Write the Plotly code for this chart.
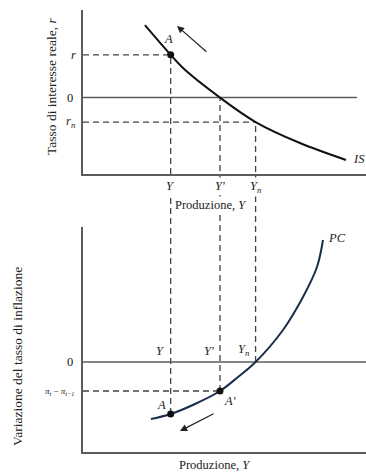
import plotly.graph_objects as go

W, H = 366, 474

# Output levels marked on the horizontal axes
Y_A, Y_PRIME, Y_N = 3.2, 5.0, 6.3
X_MAX = 10.33          # right end of both output axes
ZERO_END = 10.0        # right end of the r = 0 line in the upper panel

# Upper panel: real interest rates
R_A, R_N = 2.1, -1.2
TOP_RANGE = [-3.75, 4.3]

# IS curve (output, real rate)
is_x = [2.26, 3.2, 3.65, 5.0, 6.3, 7.92, 9.6]
is_y = [3.56, 2.1, 1.45, 0.0, -1.2, -2.23, -3.06]

# Lower panel: change in inflation
PI_A, PI_A2 = -2.6, -1.45
BOT_RANGE = [-4.5, 6.75]

# Phillips curve (output, change in inflation)
pc_x = [2.48, 3.2, 4.09, 5.0, 5.66, 6.3, 7.3, 8.03, 8.54, 8.76]
pc_y = [-2.85, -2.6, -2.1, -1.45, -0.75, 0.0, 1.6, 3.25, 4.75, 6.1]

# Axis domains (paper fractions)
X_DOM = [83 / W, 1.0]
TOP_DOM = [1 - 174 / H, 1 - 10 / H]
BOT_DOM = [1 - 452 / H, 1 - 227 / H]

FONT = "Liberation Serif"
AXIS_C = "#5c5c5c"
DASH_C = "#444444"
DASH = "6px,4px"
INK = "#111111"
PC_C = "#1b2c4c"
TXT_C = "#222222"


def to_paper(v, rng, dom):
    return dom[0] + (v - rng[0]) / (rng[1] - rng[0]) * (dom[1] - dom[0])


fig = go.Figure()

# ---------- upper panel ----------
fig.add_trace(go.Scatter(x=[0, ZERO_END], y=[0, 0], mode="lines",
                         line=dict(color=AXIS_C, width=1.5),
                         xaxis="x", yaxis="y", hoverinfo="skip"))
fig.add_trace(go.Scatter(x=[0, Y_A], y=[R_A, R_A], mode="lines",
                         line=dict(color=DASH_C, width=1.3, dash=DASH),
                         xaxis="x", yaxis="y"))
fig.add_trace(go.Scatter(x=[0, Y_N], y=[R_N, R_N], mode="lines",
                         line=dict(color=DASH_C, width=1.3, dash=DASH),
                         xaxis="x", yaxis="y"))
fig.add_trace(go.Scatter(x=is_x, y=is_y, mode="lines",
                         line=dict(color=INK, width=2, shape="spline"),
                         xaxis="x", yaxis="y"))
fig.add_trace(go.Scatter(x=[Y_A], y=[R_A], mode="markers",
                         marker=dict(color=INK, size=7),
                         xaxis="x", yaxis="y"))

# ---------- lower panel ----------
fig.add_trace(go.Scatter(x=[0, X_MAX], y=[0, 0], mode="lines",
                         line=dict(color=AXIS_C, width=1.5),
                         xaxis="x2", yaxis="y2"))
fig.add_trace(go.Scatter(x=[0, Y_PRIME], y=[PI_A2, PI_A2], mode="lines",
                         line=dict(color=DASH_C, width=1.3, dash=DASH),
                         xaxis="x2", yaxis="y2"))
fig.add_trace(go.Scatter(x=pc_x, y=pc_y, mode="lines",
                         line=dict(color=PC_C, width=2, shape="spline"),
                         xaxis="x2", yaxis="y2"))
fig.add_trace(go.Scatter(x=[Y_A, Y_PRIME], y=[PI_A, PI_A2], mode="markers",
                         marker=dict(color=INK, size=7),
                         xaxis="x2", yaxis="y2"))

# Vertical guides running from the upper panel down into the lower one
for xv, top_v, bot_v in [(Y_A, R_A, PI_A), (Y_PRIME, 0.0, PI_A2), (Y_N, R_N, 0.0)]:
    fig.add_shape(type="line", xref="x", yref="paper", x0=xv, x1=xv,
                  y0=to_paper(bot_v, BOT_RANGE, BOT_DOM),
                  y1=to_paper(top_v, TOP_RANGE, TOP_DOM),
                  line=dict(color=DASH_C, width=1.3, dash=DASH), layer="below")

ann = []


def label(text, x, y, xref="x", yref="y", size=12.5, **kw):
    d = dict(text=text, x=x, y=y, xref=xref, yref=yref, showarrow=False,
             font=dict(family=FONT, size=size, color=TXT_C))
    d.update(kw)
    ann.append(d)


# upper panel labels
label("<i>r</i>", 0, R_A, xanchor="right", xshift=-5)
label("0", 0, 0, xanchor="right", xshift=-8)
label("<i>r<sub>n</sub></i>", 0, R_N, xanchor="right", xshift=-5)
label("<i>A</i>", Y_A, R_A, yanchor="bottom", yshift=7, xshift=-2)
label("<i>IS</i>", is_x[-1], is_y[-1], xanchor="left", xshift=5, yshift=1)
for xv, t in [(Y_A, "<i>Y</i>"), (Y_PRIME, "<i>Y'</i>"), (Y_N, "<i>Y<sub>n</sub></i>")]:
    label(t, xv, TOP_RANGE[0], yanchor="top", yshift=-3, bgcolor="white")
label("Produzione, <i>Y</i>", 4.67, TOP_RANGE[0], yanchor="middle", yshift=-31,
      bgcolor="white")
label("Tasso di interesse reale, <i>r</i>", 52 / W, 1 - 87 / H, size=13.5,
      xref="paper", yref="paper", textangle=-90, xanchor="center", yanchor="middle")

# lower panel labels
label("0", 0, 0, xref="x2", yref="y2", xanchor="right", xshift=-8)
label("<i>π<sub>t</sub></i> − <i>π<sub>t−1</sub></i>", 0, PI_A2, xref="x2", yref="y2",
      xanchor="right", xshift=-6, size=9)
for xv, t in [(Y_A, "<i>Y</i>"), (Y_PRIME, "<i>Y'</i>"), (Y_N, "<i>Y<sub>n</sub></i>")]:
    label(t, xv, 0, xref="x2", yref="y2", xanchor="right", yanchor="bottom",
          xshift=-4, yshift=2)
label("<i>A</i>", Y_A, PI_A, xref="x2", yref="y2", xanchor="right", yanchor="bottom",
      xshift=-3, yshift=0)
label("<i>A'</i>", Y_PRIME, PI_A2, xref="x2", yref="y2", xanchor="left", yanchor="top",
      xshift=2, yshift=-1)
label("<i>PC</i>", pc_x[-1], pc_y[-1], xref="x2", yref="y2", xanchor="left",
      xshift=3, yshift=2)
label("Produzione, <i>Y</i>", 4.8, BOT_RANGE[0], xref="x2", yref="y2",
      yanchor="middle", yshift=-13)
label("Variazione del tasso di inflazione", 17 / W, 1 - 357 / H, size=13.5,
      xref="paper", yref="paper", textangle=-90, xanchor="center", yanchor="middle")

# direction arrows
ann.append(dict(x=3.43, y=3.52, ax=4.56, ay=2.19, xref="x", yref="y",
                axref="x", ayref="y", showarrow=True, arrowhead=2,
                arrowsize=1.2, arrowwidth=1.2, arrowcolor=TXT_C, text=""))
ann.append(dict(x=3.54, y=-3.45, ax=4.82, ay=-2.55, xref="x2", yref="y2",
                axref="x2", ayref="y2", showarrow=True, arrowhead=2,
                arrowsize=1.2, arrowwidth=1.2, arrowcolor=TXT_C, text=""))

axis_common = dict(showgrid=False, zeroline=False, showticklabels=False,
                   ticks="", showline=True, linecolor=AXIS_C, linewidth=1.5,
                   fixedrange=True)

fig.update_layout(
    width=W, height=H,
    margin=dict(l=0, r=0, t=0, b=0),
    paper_bgcolor="white", plot_bgcolor="white",
    showlegend=False,
    xaxis=dict(domain=X_DOM, range=[0, X_MAX], anchor="y", **axis_common),
    yaxis=dict(domain=TOP_DOM, range=TOP_RANGE, anchor="x", **axis_common),
    xaxis2=dict(domain=X_DOM, range=[0, X_MAX], anchor="y2", **axis_common),
    yaxis2=dict(domain=BOT_DOM, range=BOT_RANGE, anchor="x2", **axis_common),
    annotations=ann,
)

fig.write_html("out.html")
